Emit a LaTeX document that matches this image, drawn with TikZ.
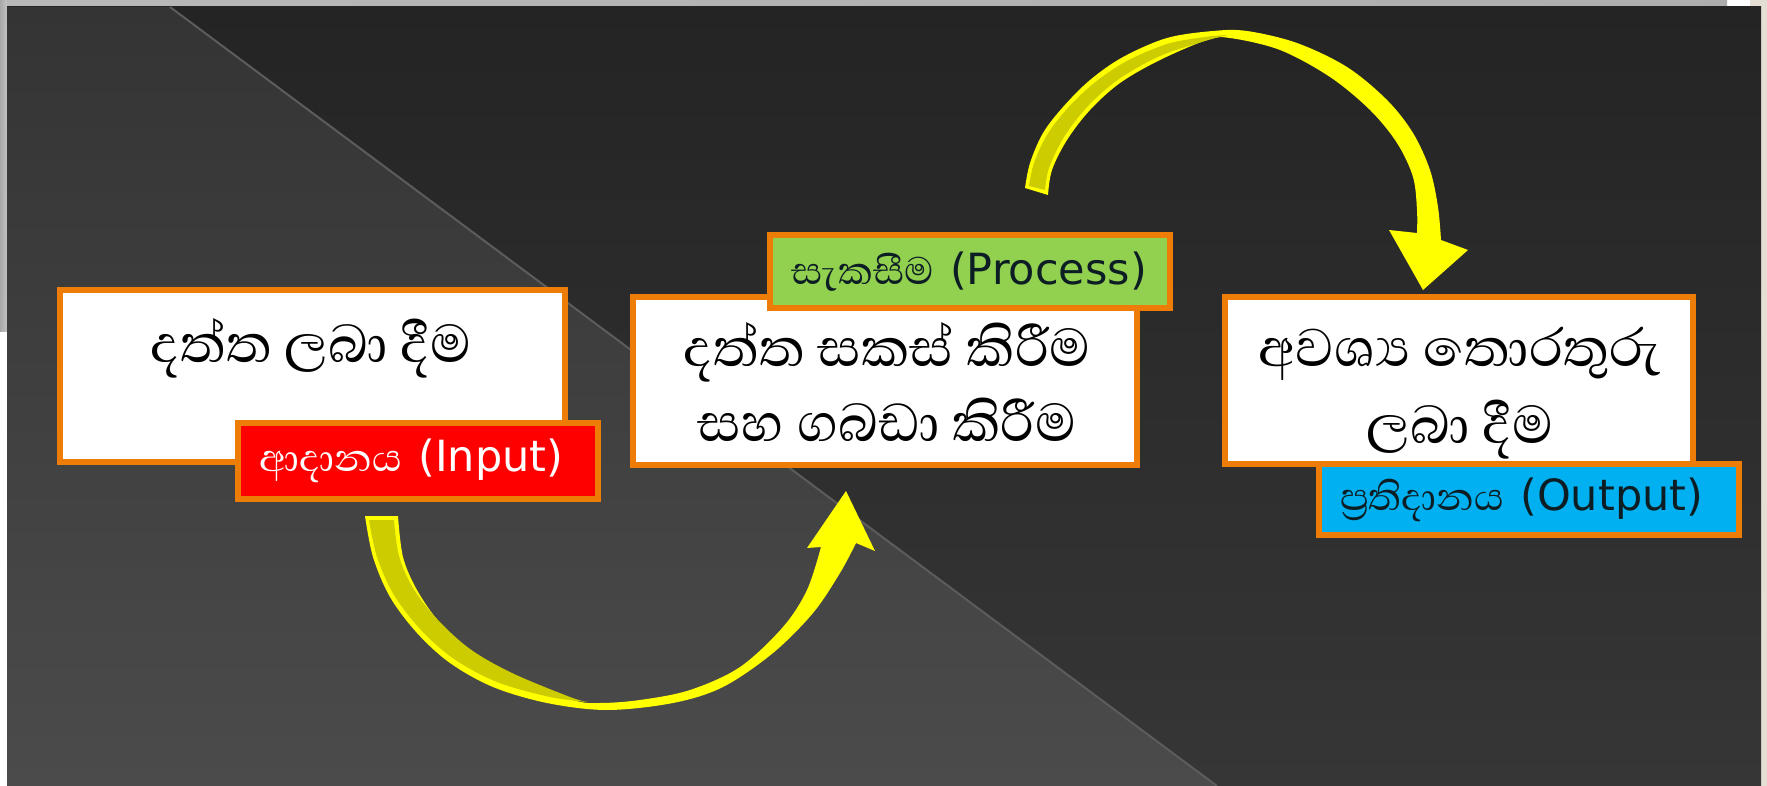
\documentclass[tikz,border=0pt]{standalone}
\usepackage{fontspec}
\newfontfamily\sinhalafont[Script=Sinhala]{Abhaya Libre}
\newfontfamily\latinfont{DejaVu Sans}
\usetikzlibrary{calc}

\definecolor{boxorange}{RGB}{238,125,8}
\definecolor{labelred}{RGB}{255,0,0}
\definecolor{labelgreen}{RGB}{146,208,80}
\definecolor{labelblue}{RGB}{0,176,240}
\definecolor{arrowyellow}{RGB}{255,255,0}
\definecolor{arrowface}{RGB}{204,204,0}
\definecolor{paneltop}{RGB}{36,36,36}
\definecolor{panelbot}{RGB}{54,54,54}
\definecolor{wedgetop}{RGB}{52,52,52}
\definecolor{wedgebot}{RGB}{75,75,75}
\definecolor{diagline}{RGB}{92,92,92}
\definecolor{framebeige}{RGB}{228,222,212}
\definecolor{labeltext}{RGB}{12,30,36}

\tikzset{
  stepbox/.style={draw=boxorange, line width=6pt, fill=white, inner sep=0pt},
  tagbox/.style={draw=boxorange, line width=6pt, inner xsep=21pt, inner ysep=0pt, align=left},
  maintext/.style={inner sep=0pt, anchor=base, font=\sinhalafont\fontsize{68}{76}\selectfont},
}
\newcommand{\tagtext}[2]{\mbox{{\sinhalafont\fontsize{49}{56}\selectfont #1}\hspace{16pt}{\latinfont\fontsize{43}{50}\selectfont #2}}}

\begin{document}
\begin{tikzpicture}[x=1pt,y=-1pt]
\useasboundingbox (0,0) rectangle (1767,786);

% slide frame
\fill[white] (0,0) rectangle (1767,786);
\fill[framebeige] (1750,0) rectangle (1767,786);
\shade[left color=black!28, middle color=black!14, right color=black!32] (0,0) rectangle (1727,7);
\shade[left color=black!34, right color=black!24] (0,0) rectangle (7,332);

% dark panel with its lighter diagonal wedge
\shade[top color=paneltop, bottom color=panelbot] (7,7) rectangle (1761,786);
\shade[top color=wedgetop, bottom color=wedgebot] (7,7) -- (170,7) -- (1217,786) -- (7,786) -- cycle;
\draw[diagline, line width=2pt] (170,7) -- (1217,786);

% step boxes
\node[stepbox, minimum width=505pt, minimum height=172pt] (inbox) at (312.5,376) {};
\node[stepbox, minimum width=504pt, minimum height=168pt] (procbox) at (885,381) {};
\node[stepbox, minimum width=468pt, minimum height=167pt] (outbox) at (1459,380.5) {};

\node[maintext] (intext) at (311,362) {දත්ත ලබා දීම};
\node[maintext] (proctexta) at (887,366) {දත්ත සකස් කිරීම};
\node[maintext] (proctextb) at (887,441) {සහ ගබඩා කිරීම};
\node[maintext] (outtexta) at (1460,366) {අවශ්‍ය තොරතුරු};
\node[maintext] (outtextb) at (1460,443) {ලබා දීම};

% stage tags
\node[tagbox, fill=labelred, text=white, text width=318pt, minimum height=76pt] (intag) at (418,461) {\tagtext{ආදානය}{(Input)}};
\node[tagbox, fill=labelgreen, text=labeltext, text width=358pt, minimum height=73pt] (proctag) at (970,271.5) {\tagtext{සැකසීම}{(Process)}};
\node[tagbox, fill=labelblue, text=labeltext, text width=378pt, minimum height=71pt] (outtag) at (1529,499.5) {\tagtext{ප්‍රතිදානය}{(Output)}};

% curved arrow: input -> process
\fill[arrowyellow]
  plot[smooth, tension=0.55] coordinates {(365,516) (373,557) (390,597) (417,633) (450,663) (493,687) (547,703) (607,710) (673,703) (723,687) (773,653) (813,613) (840,573) (856,543)}
  -- (875,551) -- (846,491) -- (807,548) -- (821,547)
  -- plot[smooth, tension=0.55] coordinates {(821,547) (807,590) (783,627) (740,667) (690,690) (640,700) (600,703) (573,700) (513,677) (473,653) (440,623) (417,590) (403,557) (398,516)}
  -- cycle;
\fill[arrowface]
  plot[smooth, tension=0.55] coordinates {(369,520) (377,557) (394,595) (421,630) (454,659) (497,682) (550,697) (588,702)}
  -- plot[smooth, tension=0.55] coordinates {(588,702) (570,697) (512,673) (470,649) (437,619) (413,588) (399,556) (394,520)}
  -- cycle;

% curved arrow: process -> output
\fill[arrowyellow]
  plot[smooth, tension=0.55] coordinates {(1025,188) (1030,163) (1043,133) (1063,107) (1090,80) (1123,57) (1167,38) (1213,31) (1247,31) (1297,43) (1347,67) (1387,100) (1413,133) (1430,170) (1438,207) (1441,240)}
  -- (1468,250) -- (1423,290) -- (1389,230) -- (1417,233)
  -- plot[smooth, tension=0.55] coordinates {(1417,233) (1417,210) (1413,177) (1397,143) (1370,110) (1330,77) (1280,50) (1230,38) (1207,40) (1160,60) (1120,83) (1090,110) (1067,140) (1052,170) (1048,195)}
  -- cycle;
\fill[arrowface]
  plot[smooth, tension=0.55] coordinates {(1029,186) (1034,163) (1047,135) (1067,109) (1093,84) (1125,62) (1167,44) (1205,37) (1228,35)}
  -- plot[smooth, tension=0.55] coordinates {(1228,35) (1205,41) (1160,56) (1119,79) (1088,106) (1064,137) (1049,168) (1045,190)}
  -- cycle;
\end{tikzpicture}
\end{document}
